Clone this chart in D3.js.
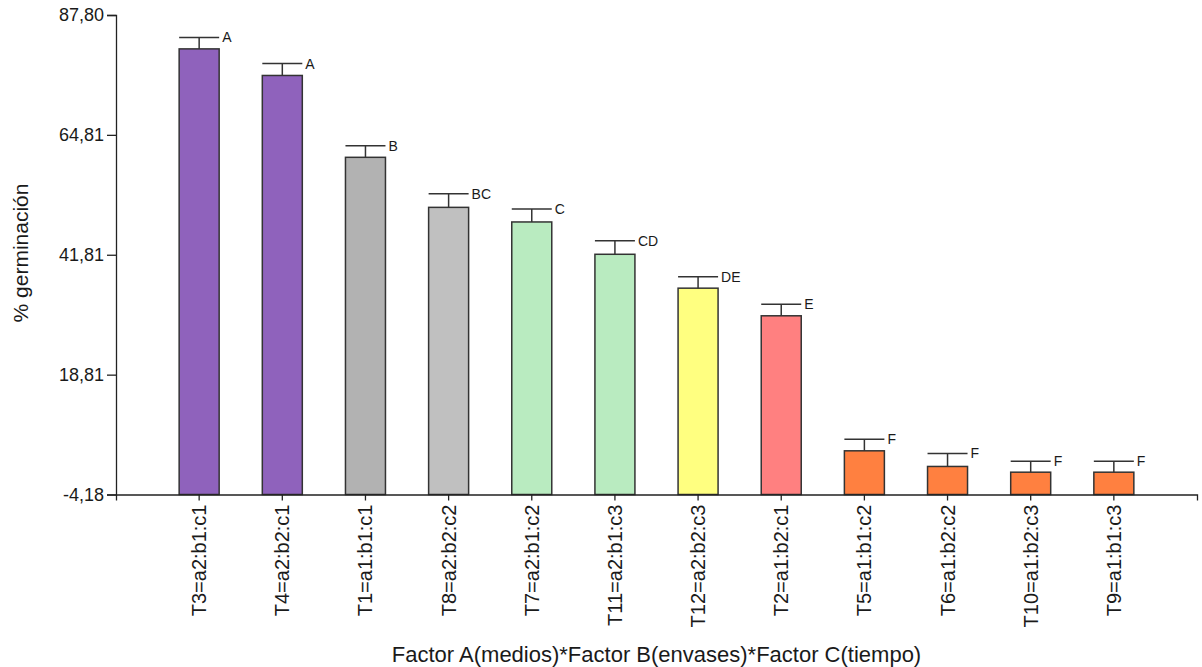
<!DOCTYPE html>
<html>
<head>
<meta charset="utf-8">
<script src="https://cdn.jsdelivr.net/npm/d3@7"></script>
<style>
  html, body { margin: 0; padding: 0; background: #ffffff; }
  svg { display: block; }
  text { font-family: "Liberation Sans", Arial, sans-serif; fill: #1a1a1a; }
</style>
</head>
<body>
<svg id="chart" width="1202" height="667"></svg>
<script>
// ---- data ----
const categories = ["T3=a2:b1:c1", "T4=a2:b2:c1", "T1=a1:b1:c1", "T8=a2:b2:c2", "T7=a2:b1:c2", "T11=a2:b1:c3",
                    "T12=a2:b2:c3", "T2=a1:b2:c1", "T5=a1:b1:c2", "T6=a1:b2:c2", "T10=a1:b2:c3", "T9=a1:b1:c3"];
const means = [81.3, 76.2, 60.5, 50.9, 48.1, 41.9, 35.4, 30.1, 4.2, 1.2, 0.1, 0.1];
const stdErr = [2.2, 2.3, 2.2, 2.6, 2.5, 2.6, 2.2, 2.2, 2.2, 2.5, 2.1, 2.1];
const letters = ["A", "A", "B", "BC", "C", "CD", "DE", "E", "F", "F", "F", "F"];
const barColors = ["#8F62BC", "#8F62BC", "#B2B2B2", "#C0C0C0", "#B9EBC0", "#B9EBC0",
                   "#FFFF80", "#FF8080", "#FF8040", "#FF8040", "#FF8040", "#FF8040"];
const yTicks = [-4.18, 18.81, 41.81, 64.81, 87.80];
const yTitle = "% germinación";
const xTitle = "Factor A(medios)*Factor B(envases)*Factor C(tiempo)";

(function () {
// ---- layout ----
const svg = d3.select("#chart");
const mLeft = 116, mRight = 1197, mTop = 15, mBottom = 494.5;

const x = d3.scaleBand().domain(categories).range([mLeft, mRight]).paddingInner(0).paddingOuter(0.5);
const y = d3.scaleLinear().domain([yTicks[0], yTicks[yTicks.length - 1]]).range([mBottom, mTop]);
const barW = 40;
const fmt = v => d3.format(".2f")(v).replace(".", ",").replace("\u2212", "-");

const data = categories.map((c, i) => ({ c, m: means[i], e: stdErr[i], l: letters[i], col: barColors[i] }));

// bars
svg.append("g").selectAll("rect").data(data).join("rect")
  .attr("x", d => x(d.c) + x.bandwidth() / 2 - barW / 2)
  .attr("width", barW)
  .attr("y", d => y(d.m))
  .attr("height", d => y(yTicks[0]) - y(d.m))
  .attr("fill", d => d.col)
  .attr("stroke", "#333")
  .attr("stroke-width", 1.5);

// error bars
const eb = svg.append("g").attr("stroke", "#333").attr("stroke-width", 1.5);
eb.selectAll("line.v").data(data).join("line").attr("class", "v")
  .attr("x1", d => x(d.c) + x.bandwidth() / 2).attr("x2", d => x(d.c) + x.bandwidth() / 2)
  .attr("y1", d => y(d.m)).attr("y2", d => y(d.m + d.e));
eb.selectAll("line.h").data(data).join("line").attr("class", "h")
  .attr("x1", d => x(d.c) + x.bandwidth() / 2 - barW / 2)
  .attr("x2", d => x(d.c) + x.bandwidth() / 2 + barW / 2)
  .attr("y1", d => y(d.m + d.e)).attr("y2", d => y(d.m + d.e));

// letters
svg.append("g").selectAll("text").data(data).join("text")
  .attr("x", d => x(d.c) + x.bandwidth() / 2 + barW / 2 + 3)
  .attr("y", d => y(d.m + d.e))
  .attr("dy", "0.36em")
  .attr("font-size", 14)
  .text(d => d.l);

// y axis
const yAxis = svg.append("g").attr("transform", `translate(${mLeft},0)`)
  .call(d3.axisLeft(y).tickValues(yTicks).tickFormat(fmt).tickSize(9).tickSizeOuter(9).tickPadding(3));
yAxis.selectAll("text").attr("font-size", 18).style("font-family", "'Liberation Sans', Arial, sans-serif").attr("fill", "#1a1a1a");

// x axis
const xAxis = svg.append("g").attr("transform", `translate(0,${mBottom})`)
  .call(d3.axisBottom(x).tickSize(6).tickSizeOuter(6));
xAxis.selectAll("text")
  .attr("font-size", 20)
  .style("font-family", "'Liberation Sans', Arial, sans-serif")
  .attr("fill", "#1a1a1a")
  .attr("transform", "rotate(-90)")
  .attr("x", -10)
  .attr("y", 0)
  .attr("dy", "0.35em")
  .style("text-anchor", "end");

svg.selectAll(".domain, .tick line").attr("stroke", "#222").attr("stroke-width", 1.3);

// titles
svg.append("text")
  .attr("x", (mLeft + mRight) / 2)
  .attr("y", 662)
  .attr("text-anchor", "middle")
  .attr("font-size", 22)
  .text(xTitle);

svg.append("text")
  .attr("transform", `translate(28,253) rotate(-90)`)
  .attr("text-anchor", "middle")
  .attr("font-size", 21)
  .text(yTitle);
})();
</script>
</body>
</html>
